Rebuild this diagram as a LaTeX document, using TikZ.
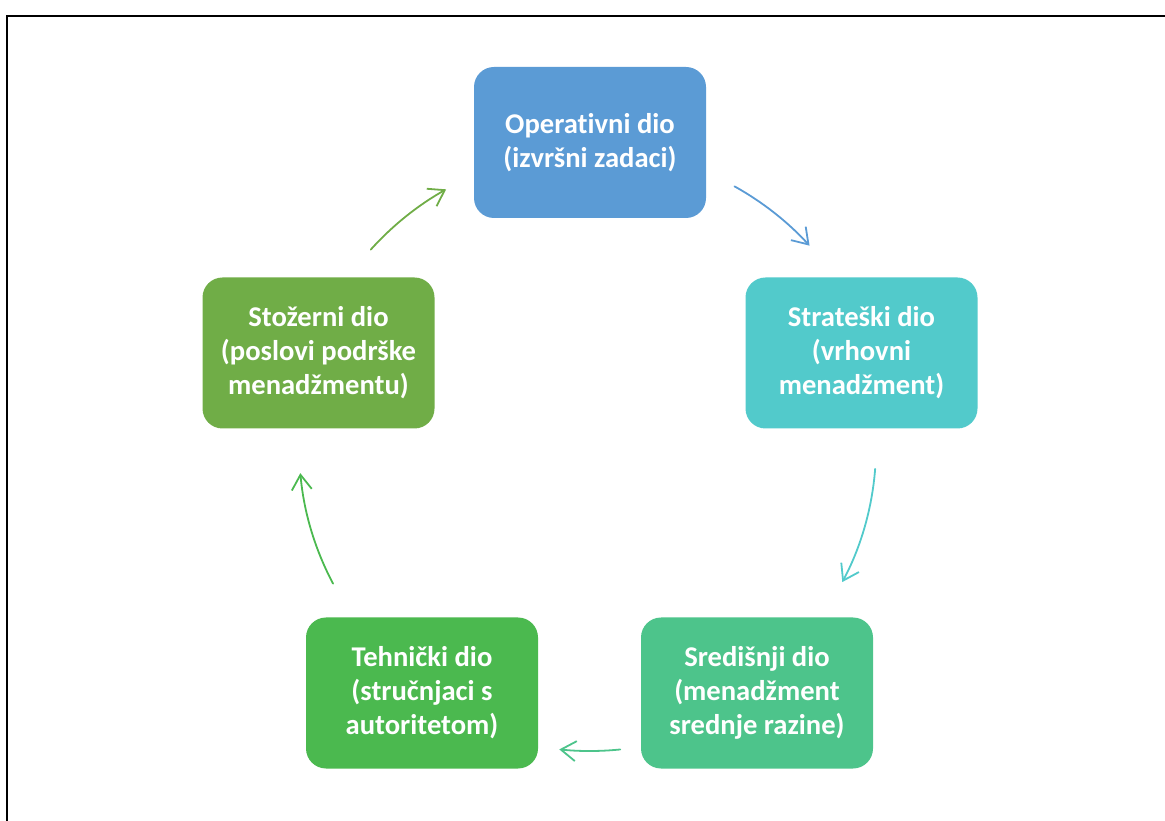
\documentclass[tikz,border=0pt]{standalone}
\usepackage{fontspec}
\setmainfont{Carlito}[Ligatures=NoCommon]
\usetikzlibrary{arrows.meta,calc}

\definecolor{cOper}{HTML}{5B9BD5}
\definecolor{cStrat}{HTML}{52CACB}
\definecolor{cSred}{HTML}{4DC48B}
\definecolor{cTehn}{HTML}{4BB94F}
\definecolor{cStoz}{HTML}{70AD47}

\tikzset{
  partbox/.style={draw=none, rounded corners=20pt, minimum width=232pt,
    minimum height=151pt, inner sep=0pt, align=center, text=white,
    font=\fontsize{28.6}{34}\selectfont\bfseries},
  cyclearrow/.style={line width=1.8pt, line cap=round,
    -{Straight Barb[length=15pt,width=20pt,line width=1.8pt]}},
}

\begin{document}
\begin{tikzpicture}[x=1pt,y=1pt]
  \useasboundingbox (0,0) rectangle (1165,820);

  % outer frame (top and left edges)
  \draw[line width=2.5pt] (1166,804) -- (7,804) -- (7,-1);

  % the five parts
  \node[partbox, fill=cOper]  (oper) at (590,677.5) {Operativni dio\\(izvršni zadaci)};
  \node[partbox, fill=cStrat] (strat) at (861.5,467) {Strateški dio\\(vrhovni\\menadžment)};
  \node[partbox, fill=cSred]  (sred) at (757,127) {Središnji dio\\(menadžment\\srednje razine)};
  \node[partbox, fill=cTehn]  (tehn) at (422,127) {Tehnički dio\\(stručnjaci s\\autoritetom)};
  \node[partbox, fill=cStoz]  (stoz) at (318.5,467) {Stožerni dio\\(poslovi podrške\\menadžmentu)};

  % cycle centre and arrow start points
  \coordinate (c) at (590,373);
  \coordinate (s1) at ($(c)+(61:298)$);
  \coordinate (s2) at ($(c)+(-4.4:286)$);
  \coordinate (s3) at ($(c)+(-84.3:304)$);
  \coordinate (s4) at ($(c)+(-152:291)$);
  \coordinate (s5) at ($(c)+(138:295)$);

  % arrows running clockwise round the cycle
  \draw[cyclearrow, cOper]  (s1) arc[start angle=61, end angle=42.4, radius=296];
  \draw[cyclearrow, cStrat] (s2) arc[start angle=-4.4, end angle=-28, radius=288];
  \draw[cyclearrow, cSred]  (s3) arc[start angle=-84.3, end angle=-95.8, radius=304];
  \draw[cyclearrow, cTehn]  (s4) arc[start angle=-152, end angle=-175, radius=289];
  \draw[cyclearrow, cStoz]  (s5) arc[start angle=138, end angle=119.3, radius=297];
\end{tikzpicture}
\end{document}
